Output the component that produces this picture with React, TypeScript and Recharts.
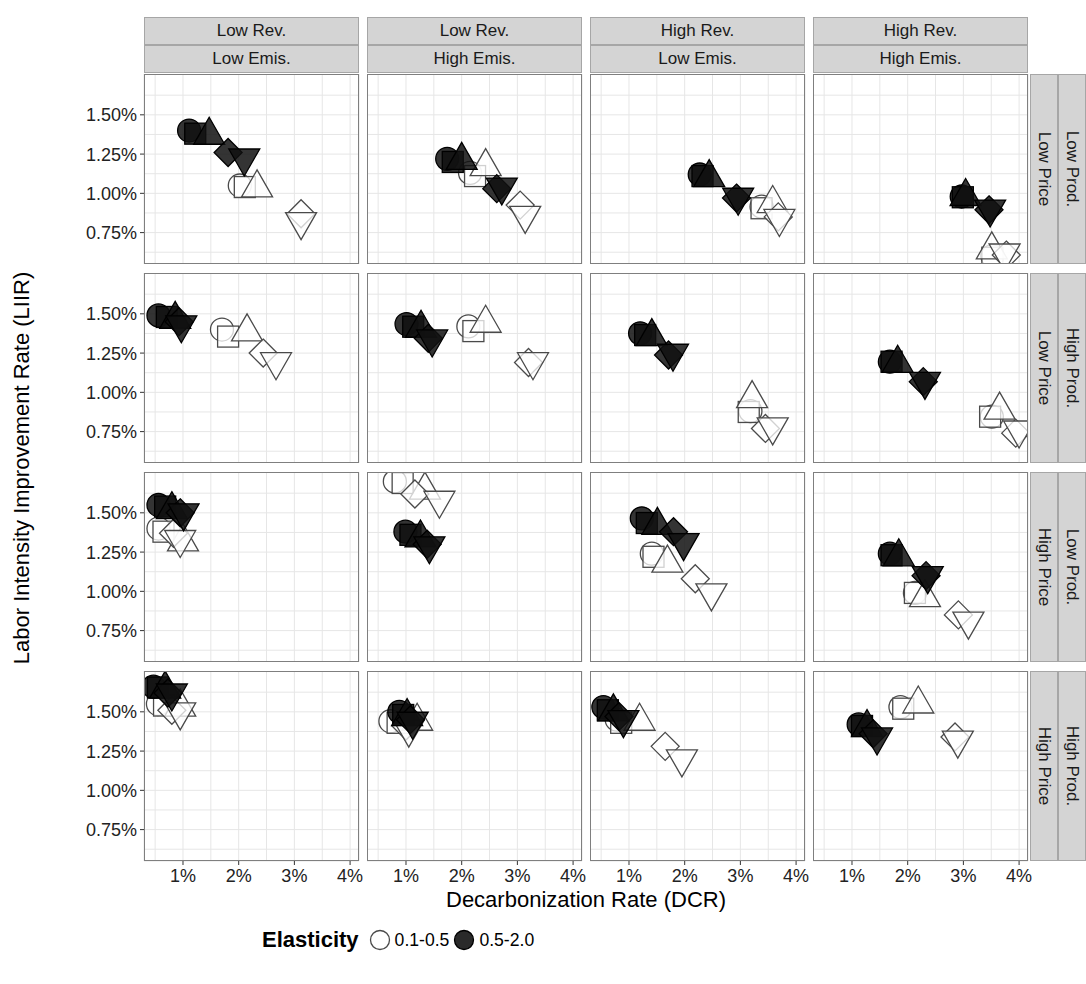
import React from 'react';
import { ScatterChart, Scatter, XAxis, YAxis, CartesianGrid } from 'recharts';

// facet labels
const colLabels = [
  ['Low Rev.', 'Low Emis.'],
  ['Low Rev.', 'High Emis.'],
  ['High Rev.', 'Low Emis.'],
  ['High Rev.', 'High Emis.'],
];
const rowLabels = [
  ['Low Prod.', 'Low Price'],
  ['High Prod.', 'Low Price'],
  ['Low Prod.', 'High Price'],
  ['High Prod.', 'High Price'],
];
const shapes = ['circle', 'square', 'triangle', 'diamond', 'triangleDown'];
const elasticity = ['0.1-0.5', '0.5-2.0'];

const xTicks = [0.5, 1, 1.5, 2, 2.5, 3, 3.5, 4];
const yTicks = [0.625, 0.75, 0.875, 1, 1.125, 1.25, 1.375, 1.5, 1.625];
const xMajor = [1, 2, 3, 4];
const yMajor = [0.75, 1, 1.25, 1.5];

// [DCR %, LIIR %] per panel (4 columns), 5 points each in shape order
const row1Low = [
  [[2.02, 1.05], [2.11, 1.04], [2.33, 1.035], [3.12, 0.87], [3.12, 0.82]],
  [[2.15, 1.13], [2.24, 1.11], [2.43, 1.17], [3.05, 0.925], [3.14, 0.86]],
  [[3.38, 0.915], [3.38, 0.905], [3.58, 0.935], [3.68, 0.85], [3.70, 0.84]],
  [[3.52, 0.60], [3.52, 0.59], [3.51, 0.64], [3.77, 0.607], [3.74, 0.62]],
];
const row1High = [
  [[1.11, 1.40], [1.22, 1.38], [1.47, 1.37], [1.81, 1.26], [2.10, 1.225]],
  [[1.74, 1.22], [1.84, 1.20], [2.00, 1.21], [2.63, 1.03], [2.72, 1.04]],
  [[2.27, 1.12], [2.32, 1.11], [2.44, 1.10], [2.93, 0.97], [2.96, 0.975]],
  [[2.97, 0.98], [2.99, 0.975], [3.04, 0.98], [3.46, 0.895], [3.48, 0.90]],
];
const row2Low = [
  [[1.70, 1.40], [1.81, 1.355], [2.15, 1.385], [2.44, 1.25], [2.67, 1.195]],
  [[2.12, 1.42], [2.21, 1.39], [2.43, 1.44], [3.20, 1.19], [3.28, 1.195]],
  [[3.18, 0.88], [3.15, 0.875], [3.21, 0.96], [3.45, 0.77], [3.58, 0.78]],
  [[3.51, 0.845], [3.48, 0.845], [3.65, 0.887], [3.94, 0.74], [4.00, 0.76]],
];
const row2High = [
  [[0.56, 1.49], [0.71, 1.48], [0.86, 1.465], [0.93, 1.45], [0.97, 1.43]],
  [[1.01, 1.435], [1.13, 1.418], [1.27, 1.408], [1.40, 1.344], [1.47, 1.34]],
  [[1.20, 1.376], [1.29, 1.365], [1.41, 1.355], [1.71, 1.238], [1.79, 1.249]],
  [[1.68, 1.195], [1.71, 1.195], [1.82, 1.185], [2.28, 1.068], [2.31, 1.07]],
];
const row3Low = [
  [[0.56, 1.40], [0.65, 1.38], [1.00, 1.315], [0.83, 1.37], [0.95, 1.33]],
  [[0.80, 1.70], [0.94, 1.69], [1.34, 1.645], [1.16, 1.62], [1.60, 1.58]],
  [[1.41, 1.24], [1.44, 1.22], [1.69, 1.18], [2.19, 1.08], [2.48, 0.99]],
  [[2.13, 0.99], [2.13, 0.99], [2.31, 0.96], [2.91, 0.85], [3.09, 0.81]],
];
const row3High = [
  [[0.56, 1.55], [0.68, 1.54], [0.80, 1.52], [0.95, 1.50], [1.01, 1.50]],
  [[0.99, 1.38], [1.08, 1.36], [1.26, 1.34], [1.38, 1.30], [1.42, 1.29]],
  [[1.23, 1.465], [1.32, 1.435], [1.51, 1.42], [1.80, 1.38], [1.98, 1.31]],
  [[1.68, 1.24], [1.71, 1.23], [1.84, 1.22], [2.33, 1.10], [2.36, 1.10]],
];
const row4Low = [
  [[0.55, 1.55], [0.66, 1.54], [0.95, 1.53], [0.80, 1.51], [0.95, 1.50]],
  [[0.72, 1.44], [0.85, 1.43], [1.20, 1.44], [1.00, 1.41], [1.05, 1.39]],
  [[0.78, 1.45], [0.86, 1.43], [1.19, 1.44], [1.65, 1.28], [1.95, 1.20]],
  [[1.87, 1.53], [1.92, 1.52], [2.19, 1.55], [2.85, 1.34], [2.90, 1.32]],
];
const row4High = [
  [[0.47, 1.66], [0.55, 1.655], [0.68, 1.645], [0.73, 1.62], [0.80, 1.62]],
  [[0.88, 1.50], [0.95, 1.48], [1.02, 1.47], [1.08, 1.45], [1.12, 1.44]],
  [[0.54, 1.53], [0.62, 1.51], [0.72, 1.50], [0.82, 1.47], [0.90, 1.45]],
  [[1.12, 1.42], [1.18, 1.41], [1.27, 1.40], [1.38, 1.36], [1.45, 1.34]],
];

const lowRows = [row1Low, row2Low, row3Low, row4Low];
const highRows = [row1High, row2High, row3High, row4High];

const FONT = '"Liberation Sans", Arial, Helvetica, sans-serif';
const PANEL_W = 215;
const PANEL_H = 190;
const GAP_X = 8;
const GAP_Y = 9;
const LEFT = 144;
const TOP = 74;
const Y_AXIS_W = 70;
const X_AXIS_H = 30;
const RIGHT_PAD = 14; // room for the last x label
const STRIP = 28;

const toPoints = (pts: number[][]) =>
  pts.map((p, i) => ({ x: p[0], y: p[1], shape: shapes[i] }));

const Marker = (props: any) => {
  const { cx, cy, payload, filled } = props;
  if (cx == null || cy == null) return null;
  const fill = filled ? '#111111' : '#ffffff';
  const stroke = filled ? '#000000' : '#4a4a4a';
  const style = { fill, stroke, strokeWidth: 1.3, fillOpacity: filled ? 0.85 : 0.75 };
  switch (payload.shape) {
    case 'circle':
      return <circle cx={cx} cy={cy} r={11.5} {...style} />;
    case 'square':
      return <rect x={cx - 10.5} y={cy - 10.5} width={21} height={21} {...style} />;
    case 'triangle':
      return <polygon points={`${cx},${cy - 18} ${cx + 15.5},${cy + 9} ${cx - 15.5},${cy + 9}`} {...style} />;
    case 'diamond':
      return <polygon points={`${cx},${cy - 14} ${cx + 14},${cy} ${cx},${cy + 14} ${cx - 14},${cy}`} {...style} />;
    default:
      return <polygon points={`${cx - 15.5},${cy - 9} ${cx + 15.5},${cy - 9} ${cx},${cy + 18}`} {...style} />;
  }
};

const EmptyTick = () => <g />;

const YTick = (props: any) => {
  const { x, y, payload } = props;
  if (!yMajor.includes(payload.value)) return <g />;
  return (
    <g>
      <line x1={x - 4} x2={x} y1={y} y2={y} stroke="#333" />
      <text x={x - 7} y={y} dy="0.36em" textAnchor="end" fontSize={18} fill="#222" fontFamily={FONT}>
        {payload.value.toFixed(2)}%
      </text>
    </g>
  );
};

const XTick = (props: any) => {
  const { x, y, payload } = props;
  if (!xMajor.includes(payload.value)) return <g />;
  return (
    <g>
      <line x1={x} x2={x} y1={y} y2={y + 4} stroke="#333" />
      <text x={x} y={y + 21} textAnchor="middle" fontSize={18} fill="#222" fontFamily={FONT}>
        {payload.value}%
      </text>
    </g>
  );
};

const Panel = ({ r, c }: { r: number; c: number }) => {
  const isLeft = c === 0;
  const isBottom = r === 3;
  const w = PANEL_W + (isLeft ? Y_AXIS_W : 0) + RIGHT_PAD;
  const h = PANEL_H + (isBottom ? X_AXIS_H : 0);
  const left = LEFT + c * (PANEL_W + GAP_X) - (isLeft ? Y_AXIS_W : 0);
  const top = TOP + r * (PANEL_H + GAP_Y);
  return (
    <div style={{ position: 'absolute', left, top }}>
      <ScatterChart width={w} height={h} margin={{ top: 0, right: RIGHT_PAD, bottom: 0, left: 0 }}>
        <CartesianGrid stroke="#e6e6e6" strokeWidth={1} />
        <XAxis
          type="number"
          dataKey="x"
          domain={[0.3, 4.16]}
          ticks={xTicks}
          allowDataOverflow
          height={isBottom ? X_AXIS_H : 0}
          axisLine={false}
          tickLine={false}
          tickSize={0}
          tickMargin={0}
          interval={0}
          tick={isBottom ? <XTick /> : <EmptyTick />}
        />
        <YAxis
          type="number"
          dataKey="y"
          domain={[0.55, 1.76]}
          ticks={yTicks}
          allowDataOverflow
          width={isLeft ? Y_AXIS_W : 0}
          axisLine={false}
          tickLine={false}
          tickSize={0}
          tickMargin={0}
          interval={0}
          tick={isLeft ? <YTick /> : <EmptyTick />}
        />
        <Scatter
          data={toPoints(lowRows[r][c])}
          isAnimationActive={false}
          shape={(p: any) => <Marker {...p} filled={false} />}
        />
        <Scatter
          data={toPoints(highRows[r][c])}
          isAnimationActive={false}
          shape={(p: any) => <Marker {...p} filled />}
        />
      </ScatterChart>
      <div
        style={{
          position: 'absolute',
          left: isLeft ? Y_AXIS_W : 0,
          top: 0,
          width: PANEL_W,
          height: PANEL_H,
          border: '1px solid #7f7f7f',
          boxSizing: 'border-box',
          pointerEvents: 'none',
        }}
      />
    </div>
  );
};

const stripStyle: React.CSSProperties = {
  position: 'absolute',
  background: '#d4d4d4',
  border: '1px solid #a6a6a6',
  boxSizing: 'border-box',
  display: 'flex',
  alignItems: 'center',
  justifyContent: 'center',
  fontSize: 17,
  color: '#1a1a1a',
  whiteSpace: 'nowrap',
};

const App: React.FC = () => {
  const stripsRight = 1030;
  return (
    <div
      style={{
        position: 'absolute',
        left: 0,
        top: 0,
        width: 1086,
        height: 984,
        background: '#fff',
        fontFamily: FONT,
        overflow: 'hidden',
      }}
    >
      {colLabels.map((labels, c) =>
        labels.map((lab, k) => (
          <div
            key={`cs-${c}-${k}`}
            style={{
              ...stripStyle,
              left: LEFT + c * (PANEL_W + GAP_X),
              top: TOP - 2 * STRIP + k * STRIP - 1,
              width: PANEL_W,
              height: STRIP,
            }}
          >
            {lab}
          </div>
        ))
      )}
      {rowLabels.map((labels, r) =>
        labels.map((lab, k) => (
          <div
            key={`rs-${r}-${k}`}
            style={{
              ...stripStyle,
              left: stripsRight + (1 - k) * STRIP,
              top: TOP + r * (PANEL_H + GAP_Y),
              width: STRIP,
              height: PANEL_H,
            }}
          >
            <span style={{ transform: 'rotate(90deg)', display: 'inline-block' }}>{lab}</span>
          </div>
        ))
      )}
      {[0, 1, 2, 3].map((r) =>
        [0, 1, 2, 3].map((c) => <Panel key={`p-${r}-${c}`} r={r} c={c} />)
      )}
      <div
        style={{
          position: 'absolute',
          left: 22,
          top: TOP + (4 * PANEL_H + 3 * GAP_Y) / 2,
          transform: 'translate(-50%, -50%) rotate(-90deg)',
          fontSize: 22,
          whiteSpace: 'nowrap',
          color: '#000',
        }}
      >
        Labor Intensity Improvement Rate (LIIR)
      </div>
      <div
        style={{
          position: 'absolute',
          left: LEFT + (4 * PANEL_W + 3 * GAP_X) / 2,
          top: 900,
          transform: 'translate(-50%, -50%)',
          fontSize: 22,
          whiteSpace: 'nowrap',
          color: '#000',
        }}
      >
        Decarbonization Rate (DCR)
      </div>
      <div
        style={{
          position: 'absolute',
          left: 262,
          top: 927,
          height: 26,
          display: 'flex',
          alignItems: 'center',
          fontSize: 17.6,
          color: '#000',
        }}
      >
        <span style={{ fontWeight: 'bold', fontSize: 22, marginRight: 10 }}>Elasticity</span>
        {elasticity.map((lab, i) => (
          <span key={lab} style={{ display: 'flex', alignItems: 'center', marginRight: 4 }}>
            <svg width={22} height={22}>
              <circle
                cx={11}
                cy={11}
                r={9.5}
                fill={i === 0 ? '#fff' : '#2a2a2a'}
                stroke={i === 0 ? '#4a4a4a' : '#000'}
                strokeWidth={1.3}
              />
            </svg>
            <span style={{ marginLeft: 4 }}>{lab}</span>
          </span>
        ))}
      </div>
    </div>
  );
};

export default App;
